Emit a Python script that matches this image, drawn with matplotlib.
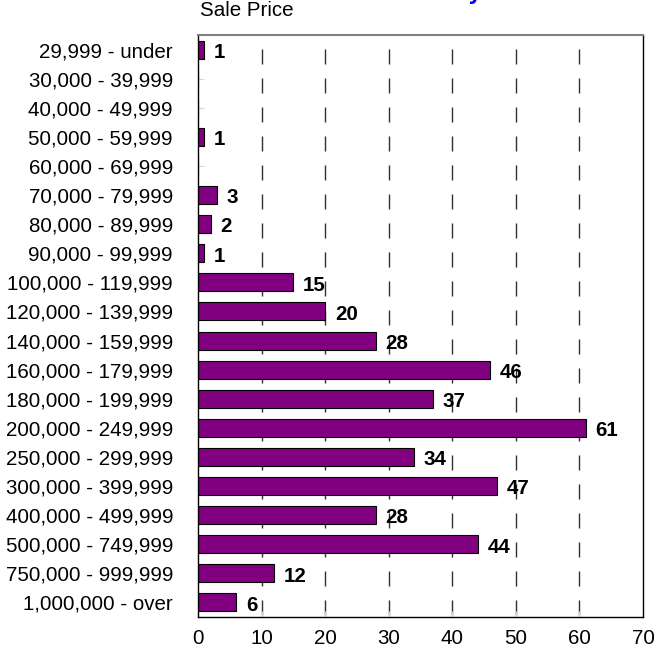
import matplotlib
matplotlib.use("Agg")
import matplotlib.pyplot as plt

# Sale price ranges and number of sales
price_ranges = ["29,999 - under", "30,000 - 39,999", "40,000 - 49,999", "50,000 - 59,999",
                "60,000 - 69,999", "70,000 - 79,999", "80,000 - 89,999", "90,000 - 99,999",
                "100,000 - 119,999", "120,000 - 139,999", "140,000 - 159,999", "160,000 - 179,999",
                "180,000 - 199,999", "200,000 - 249,999", "250,000 - 299,999", "300,000 - 399,999",
                "400,000 - 499,999", "500,000 - 749,999", "750,000 - 999,999", "1,000,000 - over"]
sales = [1, 0, 0, 1, 0, 3, 2, 1, 15, 20, 28, 46, 37, 61, 34, 47, 28, 44, 12, 6]
x_ticks = [0, 10, 20, 30, 40, 50, 60, 70]

plt.rcParams['font.family'] = ['Liberation Sans', 'DejaVu Sans']
FS = 14.8

fig = plt.figure(figsize=(6.55, 6.52), dpi=100)
ax = fig.add_axes([198 / 655, 1 - 617 / 652, (643 - 198) / 655, (617 - 35) / 652])

ypos = list(range(len(price_ranges)))

# Dashed gridlines drawn from top to bottom so the dash pattern starts like the original
px = 0.72
for xv in x_ticks[1:-1]:
    ax.plot([xv, xv], [-0.5, len(price_ranges) - 0.5], color='#303030', linewidth=1.0,
            linestyle=(15 * px, (15 * px, 14 * px)), zorder=1)

ax.barh(ypos, sales, height=0.62, color='#800080', edgecolor='black', linewidth=0.8, zorder=2)

# Value labels (skip empty rows)
for y, v in zip(ypos, sales):
    if v > 0:
        ax.annotate(str(v), (v, y), xytext=(7, -2), textcoords='offset points',
                    ha='left', va='center', fontsize=FS, fontweight='bold')

ax.set_xlim(0, 70)
ax.set_ylim(len(price_ranges) - 0.5, -0.5)
ax.set_xticks(x_ticks)
ax.set_yticks(ypos)
ax.set_yticklabels(price_ranges)
ax.tick_params(axis='y', direction='in', length=4, color='#e8c8e8', pad=18, labelsize=FS)
ax.tick_params(axis='x', direction='in', length=4, color='#d0d0d0', pad=9, labelsize=FS)

for side in ['left', 'right', 'bottom']:
    ax.spines[side].set_color('black')
    ax.spines[side].set_linewidth(1.0)
ax.spines['top'].set_color('#808080')
ax.spines['top'].set_linewidth(1.5)

fig.text(200 / 655, 1 - 10 / 652, "Sale Price", ha='left', va='center', fontsize=FS)

# Main title sits mostly above the page edge, only a descender shows
fig.text(482 / 655, 1 + 1 / 652, "Sales Activity", ha='right', va='baseline',
         fontsize=FS + 2, fontweight='bold', color='#0000ff')

fig.savefig("out.png", dpi=100)
